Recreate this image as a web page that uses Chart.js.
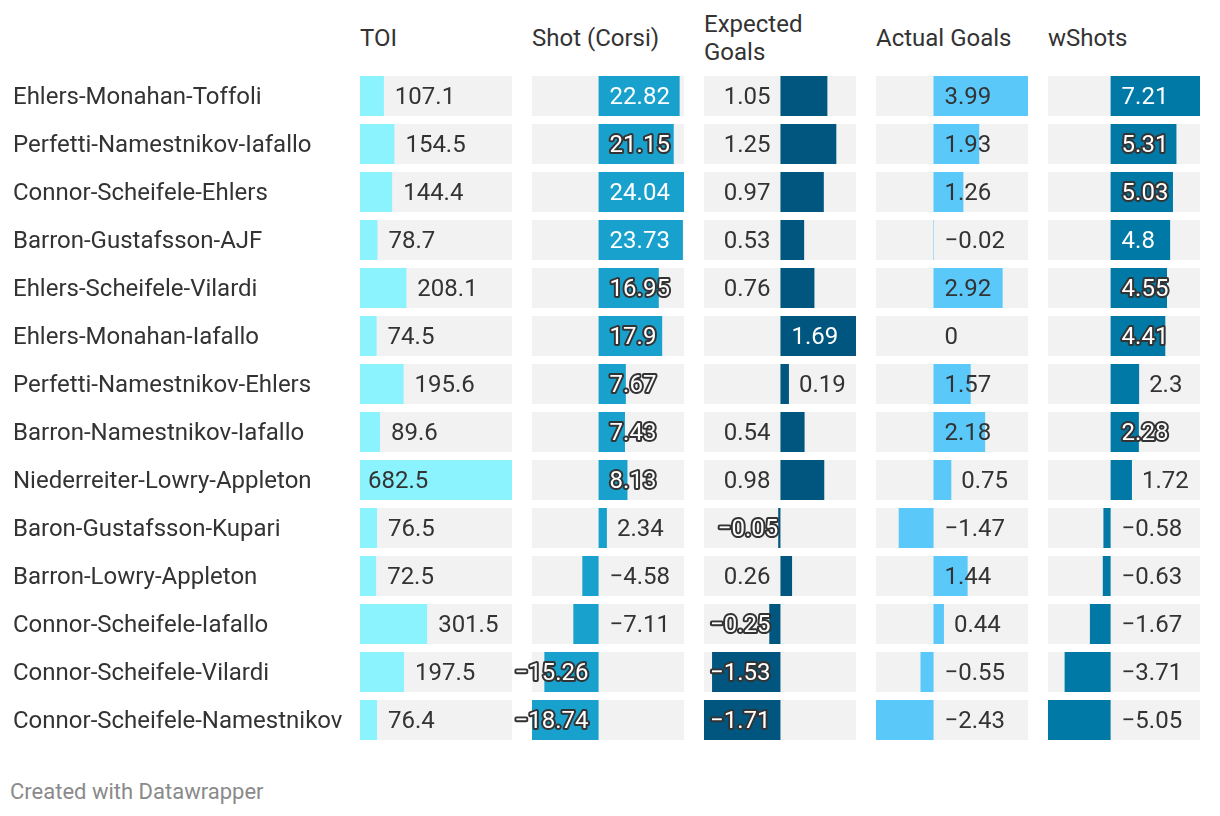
<!DOCTYPE html>
<html>
<head>
<meta charset="utf-8">
<script src="https://cdn.jsdelivr.net/npm/chart.js@4.4.1/dist/chart.umd.min.js"></script>
<style>
  body { margin: 0; background: #fff; font-family: Roboto, sans-serif; color: #333; }
  #wrap { position: relative; width: 1220px; height: 816px; overflow: hidden; }
  #wrap canvas { position: absolute; top: 72px; }
  .head { position: absolute; top: 10px; height: 56px; display: flex; align-items: center; font-size: 24px; line-height: 28px; }
  .foot { position: absolute; left: 10px; top: 779px; font-size: 22px; color: #8a8a8a; }
</style>
</head>
<body>
<div id="wrap">
  <div class="foot">Created with Datawrapper</div>
</div>
<script>
// ── Data ─────────────────────────────────────────────────────
const lines = [
  'Ehlers-Monahan-Toffoli', 'Perfetti-Namestnikov-Iafallo', 'Connor-Scheifele-Ehlers',
  'Barron-Gustafsson-AJF', 'Ehlers-Scheifele-Vilardi', 'Ehlers-Monahan-Iafallo',
  'Perfetti-Namestnikov-Ehlers', 'Barron-Namestnikov-Iafallo', 'Niederreiter-Lowry-Appleton',
  'Baron-Gustafsson-Kupari', 'Barron-Lowry-Appleton', 'Connor-Scheifele-Iafallo',
  'Connor-Scheifele-Vilardi', 'Connor-Scheifele-Namestnikov'
];
const toi    = [107.1, 154.5, 144.4, 78.7, 208.1, 74.5, 195.6, 89.6, 682.5, 76.5, 72.5, 301.5, 197.5, 76.4];
const shots  = [22.82, 21.15, 24.04, 23.73, 16.95, 17.9, 7.67, 7.43, 8.13, 2.34, -4.58, -7.11, -15.26, -18.74];
const xg     = [1.05, 1.25, 0.97, 0.53, 0.76, 1.69, 0.19, 0.54, 0.98, -0.05, 0.26, -0.25, -1.53, -1.71];
const goals  = [3.99, 1.93, 1.26, -0.02, 2.92, 0, 1.57, 2.18, 0.75, -1.47, 1.44, 0.44, -0.55, -2.43];
const wshots = [7.21, 5.31, 5.03, 4.8, 4.55, 4.41, 2.3, 2.28, 1.72, -0.58, -0.63, -1.67, -3.71, -5.05];

const COLUMNS = [
  { title: ['TOI'],               data: toi,    color: '#8af3fd', light: true, x: 360, toi: true },
  { title: ['Shot (Corsi)'],      data: shots,  color: '#19a1cd', x: 532 },
  { title: ['Expected', 'Goals'], data: xg,     color: '#00567e', x: 704, leftOfZero: true, normalRows: [5, 6] },
  { title: ['Actual Goals'],      data: goals,  color: '#5ac8f9', light: true, x: 876 },
  { title: ['wShots'],            data: wshots, color: '#0079a6', x: 1048, afterRows: [6] },
];

const FONT      = '24px Roboto';
const DARK      = '#333333';
const GREY      = '#f2f2f2';
const COL_W     = 152;
const ROW_LEFT  = 13;
const OVERHANG  = 24;   // room left of a cell for labels that spill out

// ── Helpers ──────────────────────────────────────────────────
function fmtVal(v) {
  return String(v).replace('-', '\u2212');
}

function labelLeft(col, v, i, z, e, w, area) {
  const len = Math.abs(e - z);
  if (col.toi) {
    let lx = e + 11;
    if (lx + w > area.right - 4) lx = area.left + 8;
    return lx;
  }
  if (v > 0) {
    if (col.leftOfZero && !col.normalRows.includes(i)) return z - 10 - w;
    if (len < 22 || (col.afterRows || []).includes(i)) return e + 10;
    return z + 11;
  }
  if (v < 0) {
    if (col.leftOfZero) return Math.max(e, z - 10) - w;
    if (z + 11 + w <= area.right - 8) return z + 11;
    return z - 10 - w;
  }
  return z + 11;
}

// grey row backgrounds
const rowBg = {
  id: 'rowBg',
  beforeDatasetsDraw(chart) {
    const { ctx, chartArea: a, scales: { y } } = chart;
    ctx.save();
    ctx.fillStyle = GREY;
    lines.forEach((_, i) => {
      const cy = y.getPixelForValue(i);
      ctx.fillRect(a.left, cy - 20, a.right - a.left, 40);
    });
    ctx.restore();
  }
};

function valueLabels(col) {
  return {
    id: 'valueLabels',
    afterDatasetsDraw(chart) {
      const { ctx, chartArea: a, scales: { x } } = chart;
      const meta = chart.getDatasetMeta(0);
      const z = x.getPixelForValue(0);
      ctx.save();
      ctx.font = FONT;
      ctx.textBaseline = 'middle';
      ctx.textAlign = 'left';
      meta.data.forEach((bar, i) => {
        const v = col.data[i];
        const txt = fmtVal(v);
        const w = ctx.measureText(txt).width;
        const e = bar.x;
        const lx = labelLeft(col, v, i, z, e, w, a);
        const bl = Math.min(z, e), br = Math.max(z, e);
        const overlap = Math.min(lx + w, br) - Math.max(lx, bl);
        const cy = bar.y + 2;
        if (overlap < -2 || col.light || v === 0) {
          ctx.fillStyle = DARK;
          ctx.fillText(txt, lx, cy);
        } else if (w + 20 <= br - bl && lx >= bl && lx + w <= br) {
          ctx.fillStyle = '#fff';
          ctx.fillText(txt, lx, cy);
        } else {
          ctx.lineJoin = 'round';
          ctx.lineWidth = 4;
          ctx.strokeStyle = DARK;
          ctx.strokeText(txt, lx, cy);
          ctx.fillStyle = '#fff';
          ctx.fillText(txt, lx, cy);
        }
      });
      ctx.restore();
    }
  };
}

// ── Build ────────────────────────────────────────────────────
function build() {
  const wrap = document.getElementById('wrap');

  COLUMNS.forEach((col, ci) => {
    const head = document.createElement('div');
    head.className = 'head';
    head.style.left = col.x + 'px';
    head.innerHTML = col.title.join('<br>');
    wrap.appendChild(head);

    const first  = ci === 0;
    const padL   = first ? ROW_LEFT : OVERHANG;
    const canvas = document.createElement('canvas');
    canvas.width  = first ? col.x + COL_W : COL_W + OVERHANG;
    canvas.height = 14 * 48;
    canvas.style.left = (first ? 0 : col.x - OVERHANG) + 'px';
    wrap.appendChild(canvas);

    new Chart(canvas, {
      type: 'bar',
      data: {
        labels: lines,
        datasets: [{
          data: col.data,
          backgroundColor: col.color,
          borderWidth: 0,
          barPercentage: 40 / 48,
          categoryPercentage: 1
        }]
      },
      options: {
        indexAxis: 'y',
        responsive: false,
        animation: false,
        events: [],
        layout: { padding: { left: padL, right: 0, top: 0, bottom: 0 } },
        plugins: { legend: { display: false }, tooltip: { enabled: false } },
        scales: {
          x: {
            type: 'linear',
            display: false,
            min: Math.min(0, ...col.data),
            max: Math.max(0, ...col.data)
          },
          y: {
            display: first,
            grid: { display: false },
            border: { display: false },
            ticks: { crossAlign: 'far', labelOffset: 2, color: DARK, font: { family: 'Roboto', size: 24 } },
            afterFit: s => {
              if (!first) return;
              s.width = col.x - ROW_LEFT;
              s.paddingTop = 0;
              s.paddingBottom = 0;
            }
          }
        }
      },
      plugins: [rowBg, valueLabels(col)]
    });
  });
}

document.fonts.load(FONT).then(build, build);
</script>
</body>
</html>
